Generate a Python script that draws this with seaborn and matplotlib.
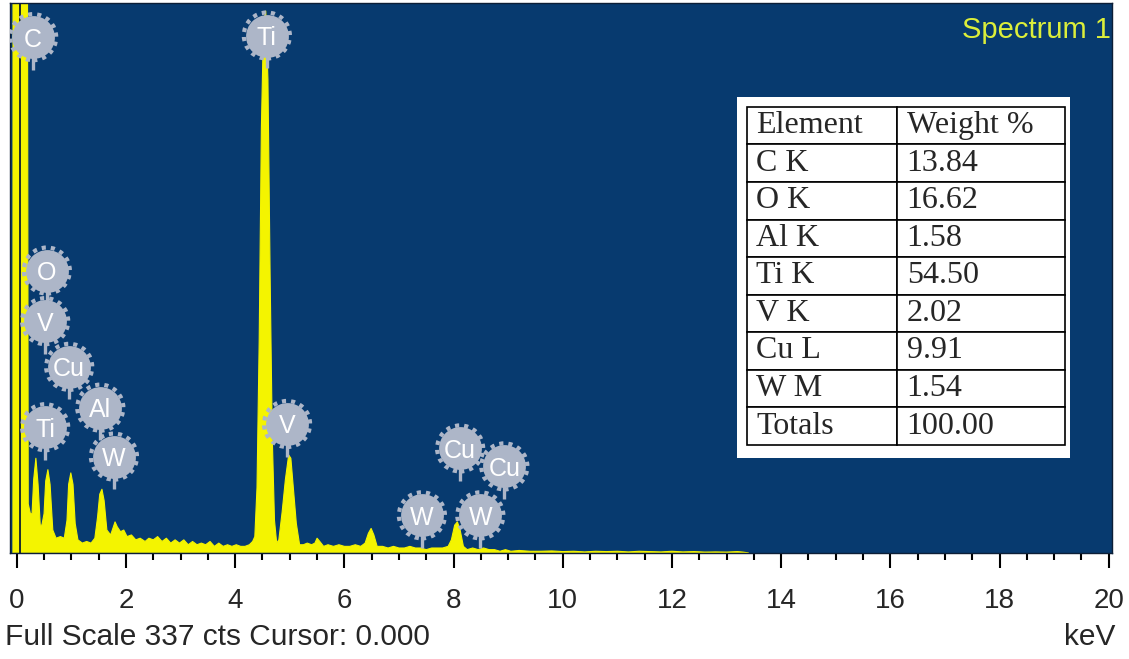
import numpy as np
import pandas as pd
import matplotlib
matplotlib.use("Agg")
import matplotlib.pyplot as plt
from matplotlib.ticker import MultipleLocator
import seaborn as sns

# ---------------------- Spectrum (keV, counts) ----------------------
kev = [-0.07, -0.068, 0.19, 0.21, 0.25, 0.28, 0.31, 0.35, 0.39, 0.43, 0.46,
       0.50, 0.53, 0.57, 0.61, 0.66, 0.72, 0.80, 0.87, 0.92, 0.95, 0.99, 1.03,
       1.07, 1.12, 1.20, 1.28, 1.36, 1.43, 1.48, 1.52, 1.56, 1.60, 1.65, 1.72,
       1.80, 1.84, 1.90, 1.96, 2.02, 2.10, 2.18, 2.26, 2.35, 2.42, 2.50, 2.58,
       2.66, 2.74, 2.82, 2.90, 2.98, 3.06, 3.14, 3.22, 3.30, 3.38, 3.46, 3.54,
       3.62, 3.70, 3.78, 3.86, 3.94, 4.02, 4.10, 4.18, 4.26, 4.32, 4.36, 4.40,
       4.44, 4.48, 4.52, 4.56, 4.60, 4.64, 4.68, 4.72, 4.76, 4.80, 4.86, 4.92,
       4.98, 5.02, 5.06, 5.12, 5.18, 5.25, 5.32, 5.40, 5.46, 5.50, 5.55, 5.62,
       5.70, 5.80, 5.90, 6.00, 6.10, 6.20, 6.30, 6.38, 6.44, 6.49, 6.54, 6.60,
       6.70, 6.80, 6.90, 7.00, 7.10, 7.20, 7.30, 7.40, 7.50, 7.60, 7.70, 7.80,
       7.90, 7.96, 8.02, 8.07, 8.12, 8.18, 8.25, 8.35, 8.45, 8.55, 8.65, 8.75,
       8.85, 8.95, 9.05, 9.20, 9.40, 9.60, 9.80, 10.0, 10.2, 10.4, 10.6, 10.8,
       11.0, 11.2, 11.4, 11.6, 11.8, 12.0, 12.2, 12.4, 12.6, 12.8, 13.0, 13.2,
       13.3, 13.4]
counts = [0, 500, 500, 30, 24, 24, 45, 58, 42, 17, 17,
          24, 44, 51, 42, 14, 9, 10, 9, 20, 42, 49, 42,
          18, 8, 6, 7, 6, 9, 22, 36, 39, 32, 14, 11,
          19, 16, 13, 14, 10, 11, 8, 9, 7, 9, 8, 10,
          7, 9, 6, 8, 6, 8, 5, 7, 5, 6, 5, 7,
          4, 6, 4, 5, 4, 5, 4, 4, 5, 7, 10, 40,
          130, 260, 325, 332, 290, 170, 70, 20, 6, 8, 25, 45,
          60, 58, 42, 18, 5, 5, 6, 5, 6, 9, 7, 4,
          5, 4, 5, 4, 4, 5, 4, 6, 12, 15, 11, 4,
          4, 3, 4, 3, 3, 4, 3, 3, 2, 3, 3, 3,
          4, 8, 17, 19, 14, 4, 2, 3, 2, 3, 2, 2,
          1, 2, 1, 1.5, 1, 1, 1.2, 0.8, 1, 0.6, 1, 0.8,
          1, 0.6, 1, 0.8, 0.6, 1, 0.6, 0.8, 0.5, 0.6, 0.5, 0.8,
          0.5, 0]

# element markers on the spectrum
label_names = ["C", "Ti", "O", "V", "Cu", "Al", "Ti", "W", "V", "Cu", "Cu", "W", "W"]
label_kev = [0.30, 4.58, 0.55, 0.52, 0.96, 1.53, 0.52, 1.78, 4.95, 8.12, 8.93, 7.42, 8.49]
label_cts = [316, 317, 173, 142, 114, 89, 77, 59, 79, 64, 53, 23, 23]

# quantification table
elements = ["Element", "C K", "O K", "Al K", "Ti K", "V K", "Cu L", "W M", "Totals"]
weights = ["Weight %", "13.84", "16.62", "1.58", "54.50", "2.02", "9.91", "1.54", "100.00"]

full_scale = 337

# ---------------------- Plot ----------------------
sns.set_style("white")
plt.rcParams['font.family'] = ['Liberation Sans', 'DejaVu Sans']

bg = '#073a6f'
yellow = '#f4f400'
grey = '#adb6c8'

fig = plt.figure(figsize=(11.29, 6.59), dpi=100)
ax = fig.add_axes([0.0089, 0.161, 0.9761, 0.8346])
ax.set_facecolor(bg)

df = pd.DataFrame({'keV': kev, 'cts': counts})
ax.fill_between(df['keV'], 0, df['cts'], color=yellow, lw=0, zorder=2)
sns.lineplot(data=df, x='keV', y='cts', color=yellow, lw=0.8, ax=ax, zorder=2)

# cursor line
ax.axvline(0.06, color='#0a1c33', lw=1.3, zorder=3)

# element labels
ax.vlines(label_kev, np.array(label_cts) - 20, np.array(label_cts) - 11,
          color=grey, lw=2.4, zorder=4)
ax.scatter(label_kev, label_cts, s=950, color=grey, zorder=5, lw=0)
ax.scatter(label_kev, label_cts, s=1100, facecolor='none', edgecolor=grey,
           lw=3, linestyle=(0, (1, 1.2)), zorder=5)
for name, x, y in zip(label_names, label_kev, label_cts):
    ax.text(x, y, name, color='white', fontsize=18, ha='center', va='center_baseline', zorder=6)

ax.set_xlim(-0.123, 20.06)
ax.set_ylim(0, full_scale)
ax.set_yticks([])
ax.set_xticks(range(0, 21, 2))
ax.xaxis.set_minor_locator(MultipleLocator(0.5))
ax.tick_params(axis='x', which='major', direction='out', length=11, width=1.5,
               color='black', labelsize=20, pad=14, bottom=True)
ax.tick_params(axis='x', which='minor', direction='out', length=5, width=1.5,
               color='black', bottom=True)
ax.set_xlabel('')
ax.set_ylabel('')
for s in ax.spines.values():
    s.set_color('#0c1e36')
    s.set_linewidth(1)

# title + footer text
ax.text(0.9985, 0.95, 'Spectrum 1', transform=ax.transAxes, ha='right', va='center',
        color='#dcee3a', fontsize=21)
fig.text(0.004, 0.033, 'Full Scale 337 cts Cursor: 0.000', ha='left', va='center', fontsize=21.5)
fig.text(0.988, 0.033, 'keV', ha='right', va='center', fontsize=21.5)

# table on a white panel
ax.add_patch(plt.Rectangle((0.6597, 0.1727), 0.3022, 0.6563, transform=ax.transAxes,
                           facecolor='white', edgecolor='none', zorder=7))
tbl = ax.table(cellText=[[e, w] for e, w in zip(elements, weights)],
               cellLoc='left', colWidths=[0.47, 0.53],
               bbox=[0.6688, 0.1964, 0.2886, 0.6145], zorder=8)
tbl.auto_set_font_size(False)
tbl.set_fontsize(23)
for cell in tbl.get_celld().values():
    cell.set_edgecolor('black')
    cell.set_linewidth(1.2)
    cell.get_text().set_fontfamily('Liberation Serif')
    cell.PAD = 0.06

fig.savefig('out.png', dpi=100)
